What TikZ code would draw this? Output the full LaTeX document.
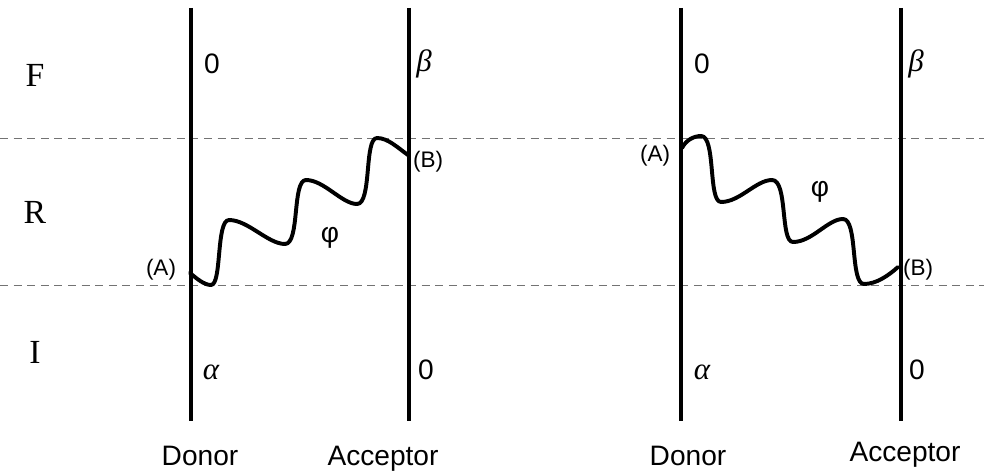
\documentclass[tikz,border=0pt]{standalone}
\usepackage{fontspec}
\setmainfont{Liberation Serif}
\setsansfont{Liberation Sans}
\usepackage{tikz}
\usetikzlibrary{positioning, calc}

\begin{document}
\begin{tikzpicture}[
    x=0.025cm, y=-0.025cm,
    axis/.style={draw=black, line width=2.2pt},
    level/.style={draw=black!55, line width=0.7pt, dash pattern=on 0.2cm off 0.14cm},
    wave/.style={draw=black, line width=2.8pt, line cap=round, line join=round},
    region/.style={font=\rmfamily\fontsize{24}{28}\selectfont},
    state/.style={font=\sffamily\fontsize{20}{24}\selectfont, inner sep=0pt},
    greek/.style={font=\rmfamily\itshape\fontsize{22}{26}\selectfont, inner sep=0pt},
    site/.style={font=\sffamily\fontsize{16}{19}\selectfont, inner sep=0pt},
    phase/.style={font=\sffamily\fontsize{20}{24}\selectfont, inner sep=0pt},
    caption/.style={font=\sffamily\fontsize{20}{24}\selectfont, inner sep=0pt, anchor=base}
]
\useasboundingbox (0,0) rectangle (984,472);

% Energy levels
\coordinate (lvl_top_w) at (0,138);
\coordinate (lvl_top_e) at (984,138);
\coordinate (lvl_bot_w) at (0,285);
\coordinate (lvl_bot_e) at (984,285);
\draw[level] (lvl_top_w) -- (lvl_top_e);
\draw[level] (lvl_bot_w) -- (lvl_bot_e);

\node[region] (lab_f) at (35,75) {F};
\node[region] (lab_r) at (35,212) {R};
\node[region] (lab_i) at (35,352) {I};

% Left pair: donor and acceptor axes
\coordinate (don1_top) at (191,8);
\coordinate (don1_bot) at (191,421);
\coordinate (acc1_top) at (409,8);
\coordinate (acc1_bot) at (409,421);
\draw[axis] (don1_top) -- (don1_bot);
\draw[axis] (acc1_top) -- (acc1_bot);

\node[state] (don1_f) at (212,64) {0};
\node[greek] (acc1_f) at (424,64) {β};
\node[greek] (don1_i) at (211,372) {α};
\node[state] (acc1_i) at (426,370) {0};
\node[caption] (don1_name) at (200,465) {Donor};
\node[caption] (acc1_name) at (383,465) {Acceptor};

\node[site] (site_a1) at (161,270) {(A)};
\node[site] (site_b1) at (428,162) {(B)};
\node[phase] (phi1) at (330,238) {φ};

% Left wave: A rises to B
\coordinate (w1_a) at (190,273);
\coordinate (w1_b) at (408,155);
\draw[wave] (w1_a) .. controls (196,278) and (204,285) .. (211,285)
  .. controls (222,285) and (216,220) .. (229,220)
  .. controls (248,220) and (268,244) .. (285,244)
  .. controls (300,244) and (292,180) .. (306,180)
  .. controls (324,180) and (342,204) .. (357,204)
  .. controls (372,204) and (364,138) .. (377,138)
  .. controls (388,138) and (398,148) .. (w1_b);

% Right pair: donor and acceptor axes
\coordinate (don2_top) at (681,8);
\coordinate (don2_bot) at (681,421);
\coordinate (acc2_top) at (901,8);
\coordinate (acc2_bot) at (901,421);
\draw[axis] (don2_top) -- (don2_bot);
\draw[axis] (acc2_top) -- (acc2_bot);

\node[state] (don2_f) at (702,64) {0};
\node[greek] (acc2_f) at (916,64) {β};
\node[greek] (don2_i) at (702,372) {α};
\node[state] (acc2_i) at (917,370) {0};
\node[caption] (don2_name) at (688,465) {Donor};
\node[caption] (acc2_name) at (905,461) {Acceptor};

\node[site] (site_a2) at (655,156) {(A)};
\node[site] (site_b2) at (918,270) {(B)};
\node[phase] (phi2) at (820,192) {φ};

% Right wave: A falls to B
\coordinate (w2_a) at (682,148);
\coordinate (w2_b) at (898,267);
\draw[wave] (w2_a) .. controls (686,140) and (694,136) .. (701,136)
  .. controls (716,136) and (708,202) .. (721,202)
  .. controls (740,202) and (756,180) .. (772,180)
  .. controls (788,180) and (780,242) .. (793,242)
  .. controls (812,242) and (828,219) .. (843,219)
  .. controls (858,219) and (850,284) .. (864,284)
  .. controls (876,284) and (888,276) .. (w2_b);

\end{tikzpicture}
\end{document}
